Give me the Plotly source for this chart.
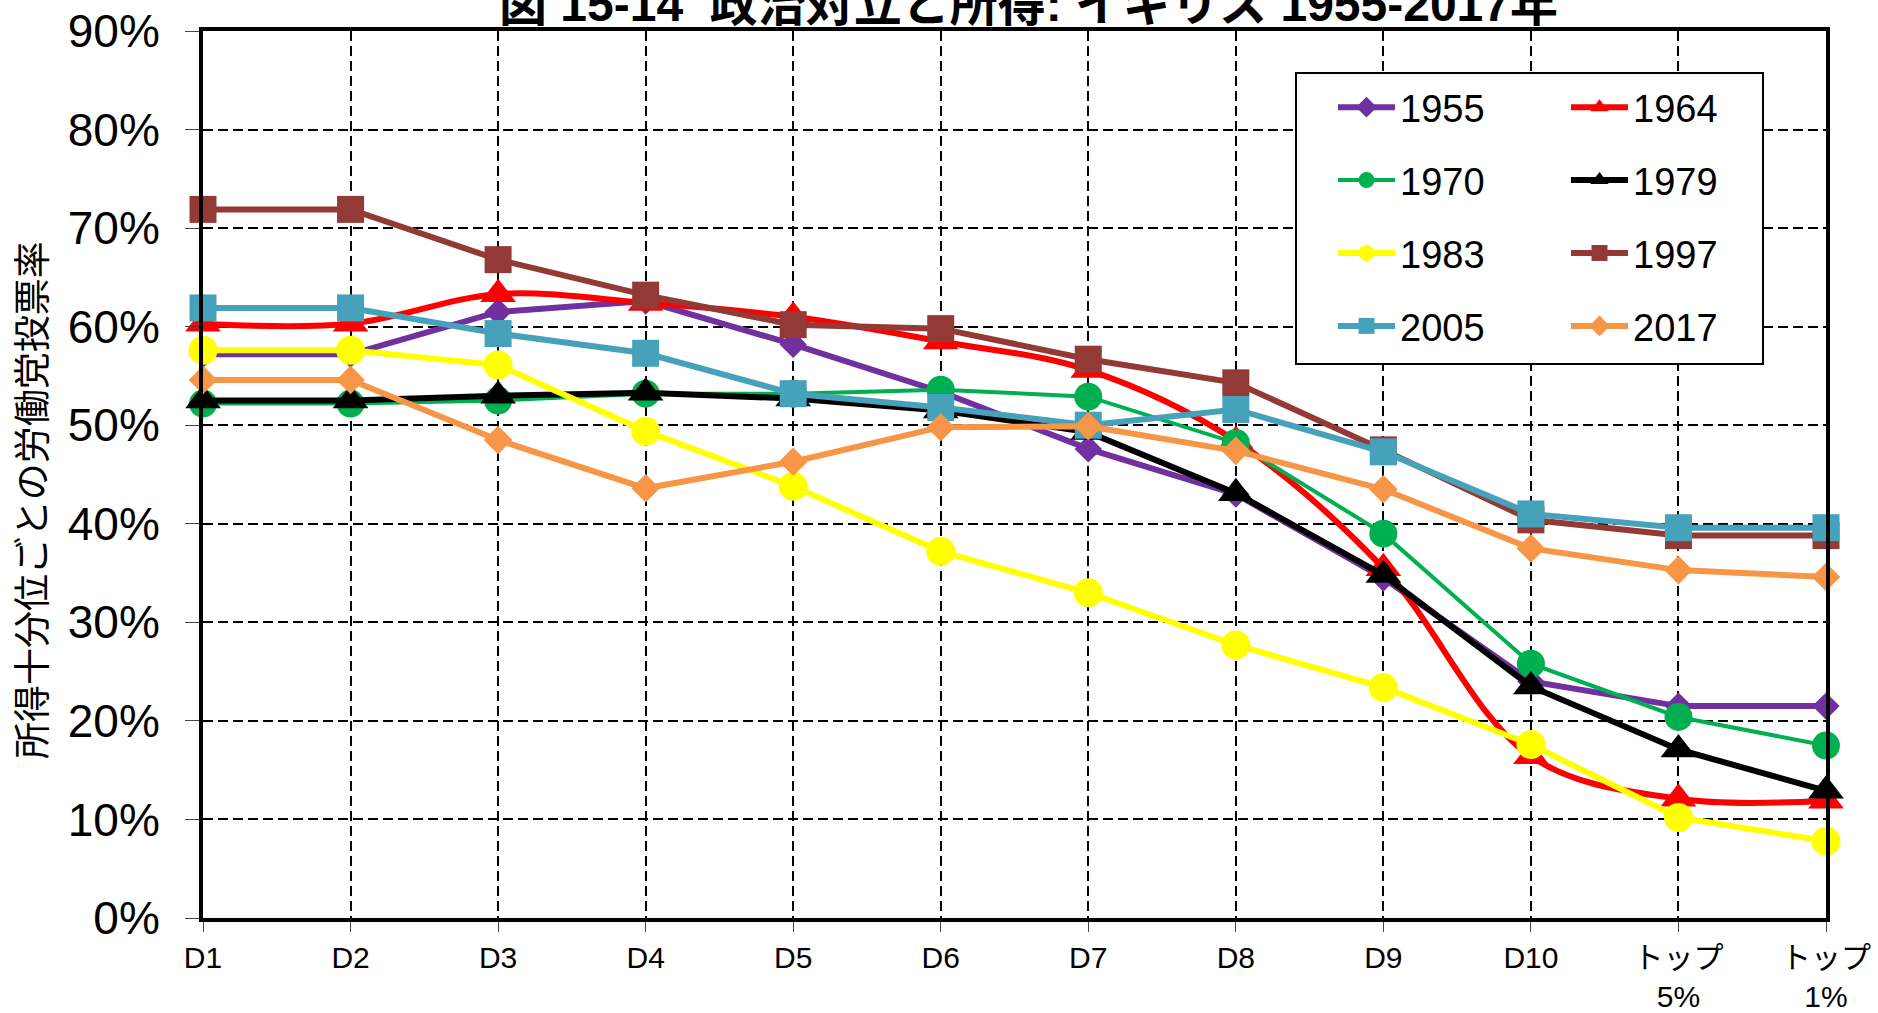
import plotly.graph_objects as go

categories = ["D1", "D2", "D3", "D4", "D5", "D6", "D7", "D8", "D9", "D10",
              "トップ<br>5%", "トップ<br>1%"]

v1955 = [57.2, 57.2, 61.5, 62.6, 58.2, 53.4, 47.6, 43.0, 34.5, 24.0, 21.5, 21.5]
v1964 = [60.3, 60.3, 63.3, 62.4, 61.0, 58.5, 55.6, 48.4, 35.5, 16.4, 12.1, 11.9]
v1970 = [52.2, 52.2, 52.5, 53.2, 53.2, 53.6, 52.9, 48.2, 39.0, 25.8, 20.4, 17.5]
v1979 = [52.5, 52.5, 53.0, 53.3, 52.7, 51.5, 49.3, 43.1, 34.8, 23.5, 17.1, 12.9]
v1983 = [57.6, 57.6, 56.1, 49.4, 43.8, 37.2, 33.0, 27.7, 23.4, 17.6, 10.2, 7.8]
v1997 = [71.9, 71.9, 66.8, 63.2, 60.2, 59.8, 56.7, 54.3, 47.5, 40.4, 38.8, 38.8]
v2005 = [61.9, 61.9, 59.3, 57.3, 53.2, 51.8, 50.0, 51.6, 47.3, 41.0, 39.6, 39.6]
v2017 = [54.6, 54.6, 48.5, 43.6, 46.3, 49.8, 49.9, 47.4, 43.5, 37.5, 35.3, 34.6]

title_text = "図 15-14  政治対立と所得: イギリス 1955-2017年"
ytitle_text = "所得十分位ごとの労働党投票率"

W, H = 1878, 1013
# plot-area edges in page pixels
L, R, T, B = 203, 1826, 31, 918

def px_x(p):
    return (p - L) / (R - L)

def px_y(p):
    return (B - p) / (B - T)

series = [
    ("1955", v1955, "#7030A0", "diamond", 21, 6, "linear", "legend"),
    ("1964", v1964, "#FF0000", "triangle-up", 31, 6, "spline", "legend2"),
    ("1970", v1970, "#00B050", "circle", 28, 4, "linear", "legend"),
    ("1979", v1979, "#000000", "triangle-up", 31, 6, "linear", "legend2"),
    ("1983", v1983, "#FFFF00", "circle", 29, 6, "linear", "legend"),
    ("1997", v1997, "#943A36", "square", 27, 6, "linear", "legend2"),
    ("2005", v2005, "#46A2BA", "square", 27, 6, "linear", "legend"),
    ("2017", v2017, "#F79646", "diamond", 22, 6, "linear", "legend2"),
]

fig = go.Figure()
for name, vals, color, sym, size, lw, shape, leg in series:
    fig.add_trace(go.Scatter(
        x=categories, y=vals, name=name, mode="lines+markers",
        line=dict(color=color, width=lw, shape=shape, smoothing=1.0),
        marker=dict(symbol=sym, size=size, color=color, line=dict(width=0)),
        cliponaxis=False, legend=leg, legendgroup=name,
    ))

font_main = "Liberation Sans, Arial, Noto Sans CJK JP, sans-serif"
font_cjk = "Noto Sans CJK JP, sans-serif"

legend_common = dict(
    bgcolor="rgba(0,0,0,0)", borderwidth=0,
    font=dict(family=font_main, size=38, color="black"),
    tracegroupgap=20.5, xanchor="left", yanchor="top",
    xref="paper", yref="paper", itemwidth=57,
)

fig.update_layout(
    width=W, height=H,
    margin=dict(l=L, r=W - R, t=T, b=H - B, pad=0, autoexpand=False),
    paper_bgcolor="white", plot_bgcolor="white",
    legend=dict(x=px_x(1333), y=px_y(76), **legend_common),
    legend2=dict(x=px_x(1566), y=px_y(76), **legend_common),
    xaxis=dict(
        type="category", categoryorder="array", categoryarray=categories,
        range=[0, len(categories) - 1], automargin=False,
        ticklabeloverflow="allow",
        showgrid=True, gridcolor="black", gridwidth=2, griddash="10px,5px",
        showline=True, linecolor="black", linewidth=4, mirror=True,
        ticks="outside", ticklen=10, tickwidth=1, tickcolor="#444",
        tickfont=dict(family=font_main, size=30, color="black"),
        zeroline=False,
    ),
    yaxis=dict(
        range=[0, 90], dtick=10, tick0=0, ticksuffix="%", automargin=False,
        ticklabeloverflow="allow",
        showgrid=True, gridcolor="black", gridwidth=2, griddash="10px,5px",
        showline=True, linecolor="black", linewidth=4, mirror=True,
        ticks="outside", ticklen=14, tickwidth=1, tickcolor="#444",
        tickfont=dict(family=font_main, size=46, color="black"),
        ticklabelstandoff=16, zeroline=False,
    ),
    shapes=[dict(type="rect", xref="paper", yref="paper",
                 x0=px_x(1296), x1=px_x(1763), y0=px_y(364), y1=px_y(73),
                 line=dict(color="black", width=2), fillcolor="white",
                 layer="above")],
    annotations=[
        dict(text=ytitle_text, textangle=-90, showarrow=False,
             xref="paper", yref="paper", x=px_x(30), y=px_y(500),
             xanchor="center", yanchor="middle",
             font=dict(family=font_cjk, size=37, color="black")),
        dict(text="<b>" + title_text + "</b>", showarrow=False,
             xref="paper", yref="paper", x=px_x(1028), y=px_y(4.5),
             xanchor="center", yanchor="middle",
             font=dict(family="Liberation Sans, Noto Sans CJK JP, sans-serif",
                       size=48, color="black")),
    ],
    showlegend=True,
)

fig.write_html(
    "out.html",
    config={"displayModeBar": False},
    post_script="document.body.style.margin='0';document.body.style.overflow='hidden';",
)
